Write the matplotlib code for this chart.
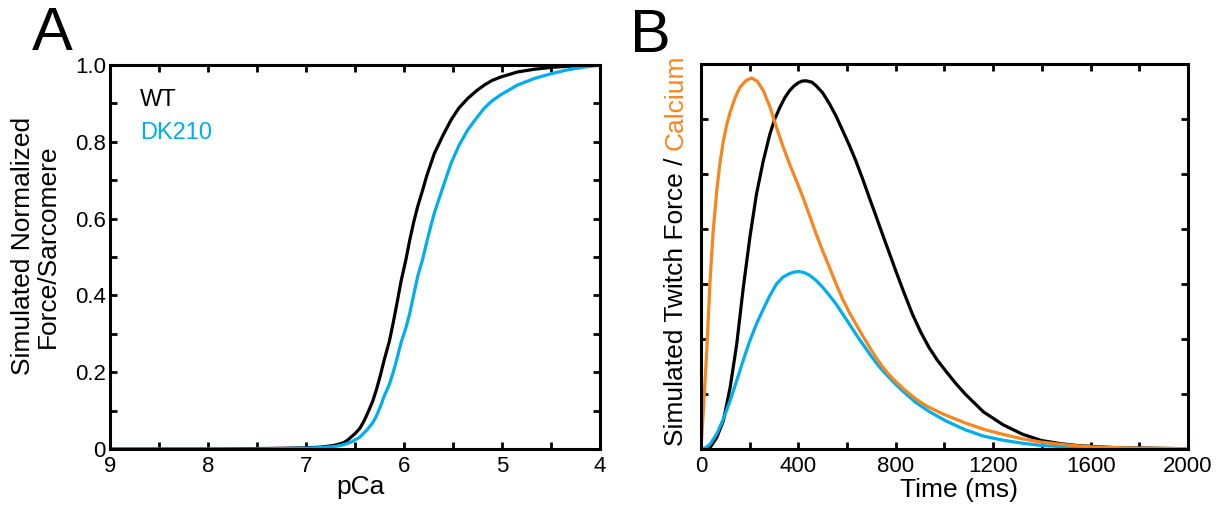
import numpy as np
import matplotlib
matplotlib.use('Agg')
import matplotlib.pyplot as plt

plt.rcParams['font.family'] = ['Liberation Sans', 'DejaVu Sans']

#%% data - panel A (steady state force vs pCa)
pca_wt = [9.0, 8.0, 7.5, 7.0, 6.85, 6.72, 6.62, 6.58, 6.54, 6.5, 6.45, 6.41, 6.37, 6.32,
          6.28, 6.24, 6.2, 6.15, 6.11, 6.07, 6.03, 5.98, 5.94, 5.9, 5.86, 5.81, 5.77,
          5.69, 5.6, 5.52, 5.44, 5.35, 5.26, 5.18, 5.1, 5.01, 4.84, 4.67, 4.49, 4.25, 4.0]
f_wt = [0.0, 0.0, 0.001, 0.003, 0.005, 0.009, 0.016, 0.022, 0.031, 0.04, 0.054, 0.072,
        0.094, 0.124, 0.156, 0.193, 0.234, 0.28, 0.329, 0.382, 0.437, 0.494, 0.546,
        0.592, 0.632, 0.674, 0.71, 0.77, 0.818, 0.857, 0.888, 0.913, 0.933, 0.948,
        0.96, 0.969, 0.982, 0.989, 0.994, 0.998, 1.0]

pca_dk = [9.0, 7.5, 7.0, 6.85, 6.72, 6.62, 6.54, 6.45, 6.37, 6.32, 6.28, 6.24, 6.2,
          6.15, 6.11, 6.07, 6.03, 5.98, 5.94, 5.9, 5.86, 5.81, 5.77, 5.73, 5.69, 5.6,
          5.52, 5.44, 5.35, 5.26, 5.18, 5.1, 5.01, 4.84, 4.67, 4.49, 4.32, 4.15, 4.0]
f_dk = [0.0, 0.0, 0.002, 0.004, 0.006, 0.011, 0.018, 0.031, 0.052, 0.068, 0.087, 0.111,
        0.139, 0.168, 0.2, 0.237, 0.277, 0.316, 0.355, 0.403, 0.45, 0.494, 0.537, 0.577,
        0.615, 0.684, 0.744, 0.79, 0.831, 0.862, 0.888, 0.907, 0.923, 0.948, 0.965,
        0.978, 0.988, 0.995, 1.0]

#%% data - panel B (twitch)
t_ca = [0, 10, 24, 38, 50, 65, 78, 92, 106, 120, 140, 160, 185, 208, 232, 256, 283,
        310, 337, 364, 392, 419, 446, 473, 500, 528, 555, 582, 609, 636, 664, 691, 718,
        745, 773, 800, 834, 868, 902, 936, 1000, 1085, 1160, 1241, 1320, 1398, 1500,
        1600, 1800, 2000]
calcium = [0.0, 0.14, 0.36, 0.62, 0.79, 0.94, 1.04, 1.12, 1.18, 1.225, 1.277, 1.315,
           1.34, 1.349, 1.337, 1.303, 1.245, 1.17, 1.1, 1.036, 0.975, 0.915, 0.849,
           0.782, 0.72, 0.66, 0.6, 0.545, 0.497, 0.455, 0.412, 0.372, 0.334, 0.3,
           0.27, 0.245, 0.217, 0.192, 0.17, 0.152, 0.125, 0.095, 0.072, 0.053, 0.037,
           0.025, 0.015, 0.008, 0.003, 0.001]

t_wt = [0, 20, 38, 65, 92, 120, 147, 174, 201, 228, 256, 283, 303, 324, 344, 364, 382,
        400, 416, 432, 455, 473, 500, 528, 555, 582, 609, 636, 664, 691, 718, 745,
        773, 800, 834, 868, 902, 936, 970, 1004, 1045, 1085, 1160, 1241, 1320, 1398,
        1480, 1554, 1700, 2000]
twitch_wt = [0.0, 0.0, 0.006, 0.042, 0.103, 0.224, 0.382, 0.588, 0.77, 0.927, 1.048,
             1.145, 1.2, 1.242, 1.277, 1.303, 1.32, 1.332, 1.338, 1.339, 1.334, 1.321,
             1.295, 1.255, 1.21, 1.158, 1.105, 1.048, 0.982, 0.915, 0.849, 0.782,
             0.714, 0.648, 0.568, 0.491, 0.426, 0.37, 0.324, 0.285, 0.24, 0.2, 0.135,
             0.088, 0.054, 0.031, 0.019, 0.012, 0.005, 0.001]

t_dk = [0, 20, 38, 65, 92, 120, 140, 160, 180, 201, 228, 256, 283, 310, 337, 364, 385,
        405, 425, 446, 473, 500, 528, 555, 582, 609, 636, 664, 691, 718, 745, 773, 800,
        827, 881, 936, 1004, 1085, 1160, 1241, 1320, 1398, 1500, 1600, 1800, 2000]
twitch_dk = [0.0, 0.005, 0.018, 0.055, 0.109, 0.176, 0.23, 0.285, 0.34, 0.394, 0.455,
             0.509, 0.558, 0.6, 0.625, 0.638, 0.644, 0.645, 0.641, 0.632, 0.613, 0.588,
             0.558, 0.527, 0.491, 0.455, 0.418, 0.382, 0.348, 0.315, 0.286, 0.26, 0.235,
             0.212, 0.17, 0.137, 0.103, 0.07, 0.047, 0.032, 0.021, 0.013, 0.008, 0.005,
             0.002, 0.001]

blue = '#00AEEF'
orange = '#F7861F'
lw = 2.3


def ramka(ax):
    for s in ax.spines.values():
        s.set_linewidth(2.2)
    ax.tick_params(which='both', direction='in', top=True, right=True,
                   length=5, width=2, labelsize=16)
    ax.tick_params(axis='x', pad=5)
    ax.tick_params(axis='y', pad=3)


fig = plt.figure(figsize=(12.25, 5.08), dpi=100)
axA = fig.add_axes([0.0898, 0.1161, 0.4, 0.7559])
axB = fig.add_axes([0.5722, 0.1161, 0.3976, 0.7579])

#%% A
axA.plot(pca_wt, f_wt, c='k', lw=lw)
axA.plot(pca_dk, f_dk, c=blue, lw=lw)
axA.set_xlim(9, 4)
axA.set_ylim(0, 1)
axA.set_xticks([9, 8, 7, 6, 5, 4])
axA.set_xticks(np.arange(4.5, 9, 1.0), minor=True)
axA.set_yticks([0, 0.2, 0.4, 0.6, 0.8, 1.0])
axA.set_yticklabels(['0', '0.2', '0.4', '0.6', '0.8', '1.0'])
axA.set_yticks(np.arange(0.1, 1.0, 0.2), minor=True)
ramka(axA)
fig.text(361 / 1225, 1 - 487 / 508, 'pCa', fontsize=19, ha='center', va='center')
fig.text(35 / 1225, 1 - 246 / 508, 'Simulated Normalized\nForce/Sarcomere', fontsize=19,
         rotation=90, ha='center', va='center', multialignment='center', linespacing=1.05)
axA.text(0.061, 0.909, 'WT', transform=axA.transAxes, fontsize=17, color='k', va='center')
axA.text(0.061, 0.823, 'DK210', transform=axA.transAxes, fontsize=17, color=blue, va='center')

#%% B
axB.plot(t_wt, twitch_wt, c='k', lw=lw)
axB.plot(t_dk, twitch_dk, c=blue, lw=lw)
axB.plot(t_ca, calcium, c=orange, lw=lw)
axB.set_xlim(0, 2000)
axB.set_ylim(0, 1.4)
axB.set_xticks([0, 400, 800, 1200, 1600, 2000])
axB.set_xticks(np.arange(200, 2000, 400), minor=True)
axB.set_yticks(np.arange(0.2, 1.4, 0.2))
axB.set_yticklabels([])
ramka(axB)
fig.text(959 / 1225, 1 - 490 / 508, 'Time (ms)', fontsize=19, ha='center', va='center')

t1 = fig.text(676 / 1225, 1 - 446 / 508, 'Simulated Twitch Force / ', rotation=90,
              fontsize=19, ha='center', va='bottom', color='k')
axB.annotate('Calcium', xy=(0.5, 1.0), xycoords=t1, rotation=90, fontsize=19,
             ha='center', va='bottom', color=orange)

fig.text(52 / 1225, 1 - 34 / 508, 'A', fontsize=44, ha='center', va='center')
fig.text(650 / 1225, 1 - 36 / 508, 'B', fontsize=44, ha='center', va='center')

fig.savefig('out.png', dpi=100)
